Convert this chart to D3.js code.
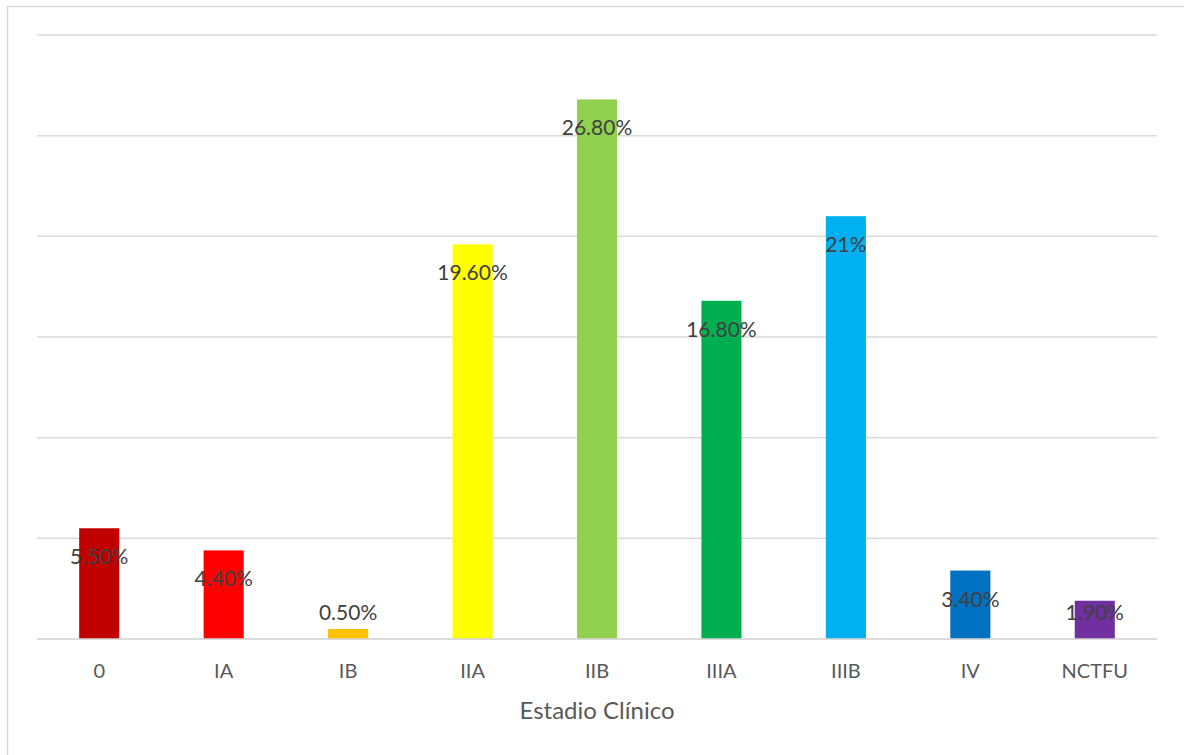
<!DOCTYPE html>
<html><head><meta charset="utf-8">
<script src="https://cdn.jsdelivr.net/npm/d3@7"></script>
<style>body{margin:0;background:#fff;} text{font-family:Lato,"Open Sans",sans-serif;}</style>
</head><body>
<svg id="c" width="1184" height="755"></svg>
<script>
const categories = ["0","IA","IB","IIA","IIB","IIIA","IIIB","IV","NCTFU"];
const values = [5.5,4.4,0.5,19.6,26.8,16.8,21,3.4,1.9];
const labels = ["5.50%","4.40%","0.50%","19.60%","26.80%","16.80%","21%","3.40%","1.90%"];
const colors = ["#C00000","#FF0000","#FFC000","#FFFF00","#92D050","#00B050","#00B0F0","#0070C0","#7030A0"];
const yTicks = [0,5,10,15,20,25,30];
const xTitle = "Estadio Clínico";

const svg = d3.select("#c");
svg.append("rect").attr("x",7.5).attr("y",6.5).attr("width",1200).attr("height",800)
  .attr("fill","#fff").attr("stroke","#d9d9d9").attr("stroke-width",1.5);

const m = {l:37, r:1157, t:35, b:639};
const x = d3.scaleBand().domain(categories).range([m.l,m.r]).paddingInner(0.678).paddingOuter(0.339);
const y = d3.scaleLinear().domain([0,30]).range([m.b,m.t]);

svg.append("g").selectAll("line").data(yTicks).join("line")
  .attr("x1",m.l).attr("x2",m.r).attr("y1",d=>y(d)).attr("y2",d=>y(d))
  .attr("stroke","#d9d9d9").attr("stroke-width",1.5);

svg.append("g").selectAll("rect").data(values).join("rect")
  .attr("x",(d,i)=>x(categories[i])).attr("width",x.bandwidth())
  .attr("y",d=>y(d)).attr("height",d=>y(0)-y(d))
  .attr("fill",(d,i)=>colors[i]);

svg.append("line").attr("x1",m.l).attr("x2",m.r).attr("y1",y(0)).attr("y2",y(0))
  .attr("stroke","#d9d9d9").attr("stroke-width",1.5);

svg.append("g").selectAll("text").data(values).join("text")
  .attr("x",(d,i)=>x(categories[i])+x.bandwidth()/2)
  .attr("y",d=>Math.min(y(d)+36, y(0)-19))
  .attr("text-anchor","middle").attr("font-size",21).attr("fill","#404040")
  .text((d,i)=>labels[i]);

const xAxis = d3.axisBottom(x).tickSize(0).tickPadding(0);
const gx = svg.append("g").attr("transform",`translate(0,${y(0)})`).call(xAxis);
gx.select(".domain").remove();
gx.selectAll("text").attr("font-size",20).attr("fill","#595959").attr("dy",null).attr("y",39)
  .style("font-family","Lato,'Open Sans',sans-serif");

svg.append("text").attr("x",(m.l+m.r)/2).attr("y",719).attr("text-anchor","middle")
  .attr("font-size",24).attr("fill","#595959").text(xTitle);
</script>
</body></html>
